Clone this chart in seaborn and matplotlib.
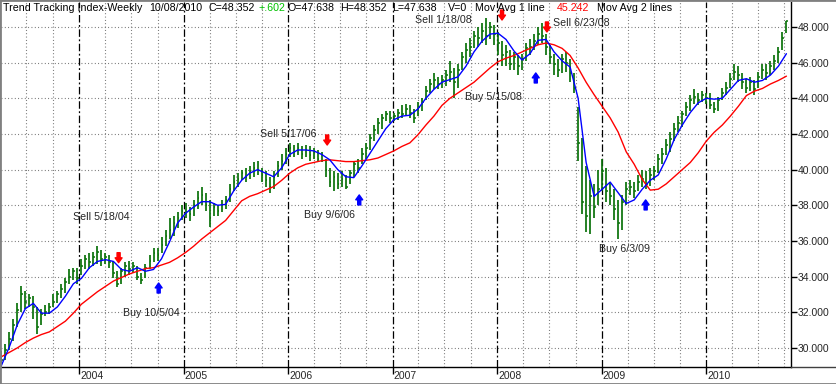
import pandas as pd
import matplotlib
matplotlib.use("Agg")
import matplotlib.pyplot as plt
import matplotlib.dates as mdates
from matplotlib.lines import Line2D
from matplotlib.patches import Rectangle
from matplotlib.ticker import NullFormatter
import seaborn as sns

# two-week price bars (Apr 2003 .. Oct 2010)
highs = [29.8, 30.2, 30.9, 31.6, 32.5, 33.5, 33.2, 33.0, 32.9, 32.3,
         32.2, 32.4, 32.5, 33.0, 33.2, 33.6, 33.9, 34.4, 34.5, 34.5,
         35.0, 35.2, 35.3, 35.4, 35.7, 35.5, 35.3, 35.2, 34.9, 34.3,
         34.5, 34.8, 34.9, 34.8, 34.6, 34.2, 34.7, 35.2, 35.6, 35.6,
         36.2, 36.6, 37.3, 37.4, 37.6, 38.0, 38.1, 37.9, 38.3, 38.8,
         39.0, 38.7, 38.3, 38.1, 38.0, 38.3, 38.5, 39.2, 39.7, 39.8,
         40.0, 40.1, 40.2, 40.4, 40.5, 40.1, 39.9, 39.6, 39.9, 40.5,
         40.9, 41.2, 41.5, 41.4, 41.5, 41.3, 41.4, 41.3, 41.2, 41.1,
         41.0, 40.6, 40.1, 39.9, 39.8, 39.9, 39.7, 40.0, 40.5, 40.6,
         41.2, 41.5, 42.0, 42.5, 42.9, 43.1, 43.3, 43.3, 43.2, 43.4,
         43.6, 43.7, 43.6, 43.4, 43.8, 44.0, 44.7, 45.1, 45.4, 45.2,
         45.3, 45.6, 46.1, 45.7, 45.9, 46.6, 47.1, 47.4, 47.8, 48.0,
         48.2, 48.5, 48.3, 48.1, 47.7, 47.2, 47.0, 46.7, 46.6, 46.4,
         46.5, 47.1, 47.3, 47.6, 48.0, 48.2, 47.6, 47.0, 46.5, 46.2,
         46.5, 46.6, 46.2, 45.4, 43.5, 41.8, 40.2, 39.4, 39.2, 40.0,
         40.6, 40.1, 39.3, 38.9, 38.3, 38.6, 39.3, 39.4, 39.3, 39.7,
         40.0, 39.9, 40.1, 40.2, 40.9, 41.2, 41.7, 42.1, 42.6, 43.0,
         43.3, 43.8, 44.2, 44.5, 44.3, 44.4, 44.3, 44.3, 43.8, 44.1,
         44.6, 44.9, 45.4, 45.9, 45.8, 45.4, 45.1, 45.2, 45.0, 45.5,
         45.9, 45.9, 46.1, 46.4, 46.9, 47.7, 48.352]
lows = [28.9, 29.3, 29.9, 30.4, 31.2, 32.0, 32.2, 32.3, 31.6, 30.8,
        31.3, 31.8, 31.9, 32.3, 32.5, 32.8, 33.1, 33.6, 33.8, 33.6,
        34.1, 34.4, 34.4, 34.6, 34.7, 34.6, 34.7, 34.5, 33.9, 33.4,
        33.6, 34.0, 34.1, 34.2, 33.8, 33.6, 33.9, 34.4, 34.8, 34.9,
        35.3, 35.7, 36.1, 36.3, 36.7, 37.2, 37.3, 37.1, 37.4, 37.8,
        38.0, 37.7, 36.8, 37.4, 37.4, 37.6, 37.8, 38.2, 38.8, 39.0,
        39.4, 39.3, 39.5, 39.6, 39.7, 39.3, 39.0, 38.7, 38.9, 39.6,
        40.0, 40.3, 40.7, 40.7, 40.8, 40.6, 40.7, 40.5, 40.6, 40.4,
        40.4, 39.6, 39.0, 38.8, 38.9, 39.0, 38.9, 39.2, 39.6, 39.8,
        40.3, 40.6, 41.1, 41.6, 42.0, 42.3, 42.7, 42.6, 42.7, 42.8,
        42.9, 43.0, 42.9, 42.6, 43.0, 43.3, 43.9, 44.3, 44.5, 44.5,
        44.6, 44.7, 44.9, 44.0, 44.6, 45.6, 46.0, 46.3, 46.8, 46.9,
        47.1, 47.0, 47.3, 47.0, 46.4, 45.8, 45.8, 45.6, 45.6, 45.3,
        45.6, 46.1, 46.4, 46.7, 47.0, 47.1, 46.4, 45.9, 45.3, 45.2,
        45.4, 45.5, 44.9, 44.3, 40.5, 37.5, 36.5, 36.4, 37.3, 38.0,
        38.8, 38.2, 38.0, 37.2, 36.1, 36.6, 38.0, 38.6, 38.4, 38.8,
        39.0, 38.9, 39.1, 39.4, 39.8, 40.3, 40.8, 41.0, 41.6, 42.1,
        42.4, 43.0, 43.3, 43.7, 43.6, 43.8, 43.7, 43.4, 43.2, 43.3,
        43.9, 44.2, 44.6, 45.0, 44.9, 44.5, 44.3, 44.4, 44.2, 44.6,
        45.1, 45.0, 45.3, 45.6, 46.0, 46.7, 47.638]
closes = [29.3, 29.9, 30.5, 31.3, 32.1, 33.0, 32.6, 32.8, 32.3, 31.2,
          31.9, 32.0, 32.3, 32.6, 33.0, 33.3, 33.7, 34.0, 34.3, 33.9,
          34.6, 35.0, 34.8, 35.1, 35.4, 35.0, 35.1, 34.8, 34.2, 33.6,
          34.3, 34.6, 34.4, 34.6, 34.0, 33.8, 34.5, 34.9, 35.3, 35.2,
          35.8, 36.3, 36.6, 37.0, 37.3, 37.7, 37.6, 37.5, 38.0, 38.4,
          38.6, 38.0, 37.3, 37.9, 37.7, 38.0, 38.3, 38.9, 39.3, 39.5,
          39.8, 39.6, 39.9, 40.1, 40.0, 39.7, 39.4, 39.0, 39.6, 40.2,
          40.5, 40.9, 41.2, 41.0, 41.2, 40.9, 41.1, 40.8, 41.0, 40.6,
          40.8, 40.0, 39.3, 39.6, 39.2, 39.5, 39.0, 39.8, 40.3, 40.1,
          40.9, 41.2, 41.8, 42.2, 42.6, 42.9, 43.1, 42.9, 43.0, 43.2,
          43.1, 43.4, 43.2, 42.9, 43.5, 43.8, 44.4, 44.8, 45.0, 44.8,
          45.0, 45.3, 45.5, 44.9, 45.6, 46.3, 46.7, 46.9, 47.5, 47.4,
          47.8, 47.5, 48.0, 47.6, 47.1, 46.4, 46.6, 45.9, 46.3, 45.8,
          46.2, 46.8, 46.9, 47.2, 47.6, 47.5, 46.9, 46.3, 45.9, 45.6,
          46.2, 46.0, 45.4, 44.6, 41.5, 38.2, 37.4, 38.5, 37.9, 38.9,
          39.9, 38.8, 38.5, 37.8, 37.0, 38.2, 38.9, 39.0, 38.8, 39.3,
          39.5, 39.2, 39.7, 39.9, 40.6, 40.9, 41.4, 41.7, 42.3, 42.6,
          43.1, 43.5, 43.9, 44.1, 43.9, 44.2, 44.0, 43.6, 43.4, 43.9,
          44.3, 44.6, 45.1, 45.5, 45.3, 44.9, 44.6, 44.9, 44.5, 45.2,
          45.6, 45.4, 45.8, 46.1, 46.6, 47.4, 48.352]

# moving averages, read every four weeks
ma_fast = [29.0, 30.05, 31.3, 32.2, 32.5, 31.95, 31.95, 32.3, 32.9, 33.6,
           33.9, 34.5, 34.85, 34.95, 34.85, 34.4, 34.3, 34.5, 34.3, 34.4,
           35.0, 35.95, 37.0, 37.55, 37.9, 38.2, 38.2, 38.0, 38.05, 38.8,
           39.4, 39.8, 40.0, 39.8, 39.6, 40.1, 40.85, 41.1, 41.1, 41.05,
           40.85, 40.55, 40.0, 39.6, 39.55, 40.2, 40.9, 41.6, 42.3, 42.8,
           43.0, 43.05, 43.4, 44.0, 44.5, 44.9, 45.05, 45.2, 45.8, 46.6,
           47.2, 47.6, 47.65, 47.3, 46.65, 46.15, 46.5, 47.25, 47.3, 46.6,
           46.1, 45.75, 44.0, 40.4, 38.5, 38.9, 39.3, 38.7, 38.1, 38.3,
           38.9, 39.4, 39.7, 40.6, 41.7, 42.5, 43.2, 43.75, 44.0, 43.95,
           44.0, 44.5, 45.0, 45.1, 44.9, 45.0, 45.3, 45.8, 46.5]
ma_slow = [29.5, 29.75, 30.0, 30.3, 30.55, 30.75, 30.9, 31.2, 31.5, 31.95,
           32.45, 32.8, 33.15, 33.45, 33.75, 33.95, 34.15, 34.3, 34.45, 34.5,
           34.65, 34.8, 35.05, 35.35, 35.7, 36.1, 36.45, 36.8, 37.15, 37.7,
           38.25, 38.5, 38.65, 38.85, 39.05, 39.4, 39.8, 40.1, 40.3, 40.4,
           40.5, 40.55, 40.5, 40.45, 40.45, 40.5, 40.55, 40.65, 40.85, 41.05,
           41.3, 41.5, 41.95, 42.5, 43.0, 43.6, 44.0, 44.3, 44.6, 44.9,
           45.3, 45.7, 46.05, 46.25, 46.4, 46.6, 46.8, 47.0, 47.1, 47.0,
           46.8, 46.4, 45.7, 44.9, 44.2, 43.55, 42.9, 42.1, 41.0, 40.3,
           39.45, 38.85, 38.9, 39.2, 39.6, 40.0, 40.4, 40.95, 41.6, 42.1,
           42.5, 43.0, 43.55, 44.15, 44.4, 44.55, 44.8, 45.0, 45.242]

# signal, arrow tip price, label date, label price
signals = [
    ("Sell 5/18/04", "2004-05-18", 34.78, "2003-12-10", 37.34),
    ("Buy 10/5/04", "2004-10-05", 33.64, "2004-06-03", 31.96),
    ("Sell 5/17/06", "2006-05-17", 41.38, "2005-09-24", 42.00),
    ("Buy 9/6/06", "2006-09-06", 38.58, "2006-02-25", 37.46),
    ("Sell 1/18/08", "2008-01-18", 48.39, "2007-03-20", 48.39),
    ("Buy 5/15/08", "2008-05-15", 45.42, "2007-09-11", 44.07),
    ("Sell 6/23/08", "2008-06-23", 47.72, "2008-07-15", 48.22),
    ("Buy 6/3/09", "2009-06-03", 38.30, "2008-12-23", 35.55),
]
years = [2004, 2005, 2006, 2007, 2008, 2009, 2010]

dates = pd.date_range(end="2010-10-08", periods=len(closes), freq="14D")
bars = pd.DataFrame({"date": dates, "high": highs, "low": lows, "close": closes})
ma = pd.DataFrame({"date": dates[::2], "fast": ma_fast, "slow": ma_slow})

sns.set_style("white")
plt.rcParams["font.family"] = ["Liberation Sans", "DejaVu Sans"]

W, H = 837, 384
fig = plt.figure(figsize=(W / 100, H / 100), dpi=100)
ax = fig.add_axes([1 / W, 17 / H, 790 / W, 365 / H])

green = "#0a720a"
ax.vlines(bars["date"], bars["low"], bars["high"], color=green, lw=1.25, zorder=3)
ax.hlines(bars["close"], bars["date"], bars["date"] + pd.Timedelta(days=6),
          color=green, lw=1.1, zorder=3)

sns.lineplot(data=ma, x="date", y="slow", color="#ff0000", lw=1.0, ax=ax, zorder=4)
sns.lineplot(data=ma, x="date", y="fast", color="#0000ff", lw=1.0, ax=ax, zorder=5)

ax.set_xlim(pd.Timestamp("2003-04-03"), pd.Timestamp("2010-10-24"))
ax.set_ylim(28.93, 49.40)
ax.set_xlabel("")
ax.set_ylabel("")

# right price axis
ax.yaxis.tick_right()
ax.set_yticks(range(30, 49, 2))
ax.set_yticklabels([f"{v:.3f}" for v in range(30, 49, 2)])
ax.tick_params(axis="y", which="major", right=True, length=4, width=1,
               color="black", labelsize=7.5, pad=1)

# years and quarters
ax.xaxis.set_major_locator(mdates.YearLocator())
ax.xaxis.set_major_formatter(NullFormatter())
ax.xaxis.set_minor_locator(mdates.MonthLocator(bymonth=[4, 7, 10]))
ax.tick_params(axis="x", which="major", bottom=True, length=5, width=1, color="black")
ax.tick_params(axis="x", which="minor", length=0)
for yr in years:
    ax.text(pd.Timestamp(f"{yr}-01-04"), -0.026, str(yr), transform=ax.get_xaxis_transform(),
            fontsize=7.5, ha="left", va="center")

dots = (0, (0.8, 2.2))
ax.grid(axis="y", which="major", linestyle=dots, color="#666666", lw=0.8)
ax.grid(axis="x", which="minor", linestyle=dots, color="#666666", lw=0.8)
for yr in years:
    ax.axvline(pd.Timestamp(f"{yr}-01-01"), color="black", lw=0.9,
               linestyle=(0, (6, 2, 1.5, 2)), zorder=2)

for side in ["top", "left"]:
    ax.spines[side].set_visible(False)
for side in ["right", "bottom"]:
    ax.spines[side].set_color("black")
    ax.spines[side].set_linewidth(1)

# buy / sell markers
for label, sig, tip, tdate, tprice in signals:
    d = pd.Timestamp(sig)
    sell = label.startswith("Sell")
    tail = tip + 0.56 if sell else tip - 0.56
    ax.annotate("", xy=(d, tip), xytext=(d, tail), zorder=6,
                arrowprops=dict(arrowstyle="simple,head_length=0.35,head_width=0.5,tail_width=0.22",
                                color="#ff0000" if sell else "#0000ff",
                                mutation_scale=10, shrinkA=0, shrinkB=0))
    ax.text(pd.Timestamp(tdate), tprice, label, fontsize=7.7, ha="left",
            va="center", zorder=6)

# header line
header = [("Trend Tracking Index-Weekly", 3, "black"), ("10/08/2010", 149, "black"),
          ("C=48.352", 209, "black"), ("+.602", 258, "#00c000"),
          ("O=47.638", 288, "black"), ("H=48.352", 340, "black"),
          ("L=47.638", 392, "black"), ("V=0", 448, "black"),
          ("Mov Avg 1 line", 475, "black"), ("45.242", 557, "#ff0000"),
          ("Mov Avg 2 lines", 597, "black")]
for txt, px, col in header:
    fig.text(px / W, 1 - 8 / H, txt, fontsize=7.7, color=col, ha="left", va="center")

fig.add_artist(Line2D([791 / W, 1], [17 / H, 17 / H], color="#404040", lw=1))
fig.add_artist(Rectangle((0, 0), 1, 1, transform=fig.transFigure, fill=False,
                         edgecolor="#808080", lw=2))

fig.savefig("out.png", dpi=100)
